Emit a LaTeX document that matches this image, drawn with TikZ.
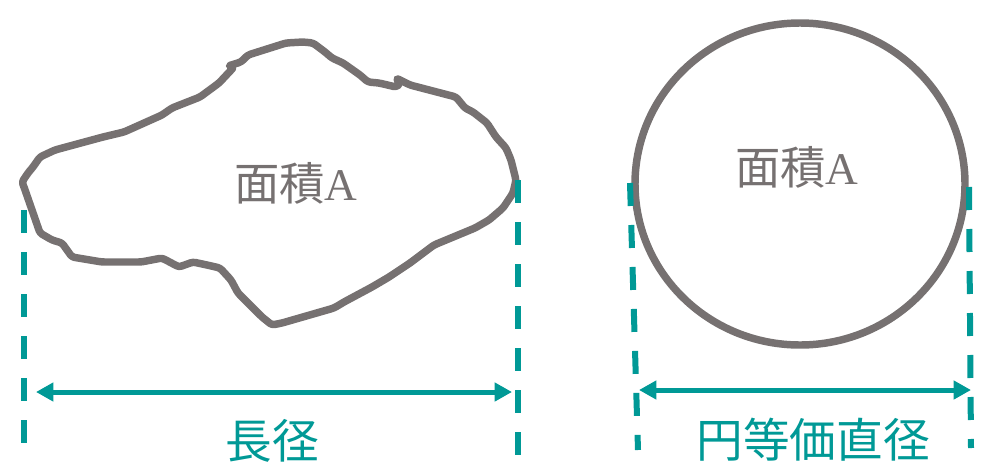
\documentclass[tikz,border=0pt]{standalone}
\usepackage{fontspec}
\setmainfont{Liberation Serif}
\newfontfamily\jp{Noto Sans CJK JP}
\usetikzlibrary{arrows.meta}
\definecolor{shapegray}{RGB}{118,113,113}
\definecolor{teal}{RGB}{0,153,150}
\tikzset{
  outline/.style={draw=shapegray, line width=5.6pt, line join=round, line cap=round},
  guide/.style={draw=teal, line width=4.5pt, dash pattern=on 17.25pt off 14.25pt},
  measure/.style={draw=teal, line width=3.75pt, {Triangle[length=13pt,width=13.5pt]}-{Triangle[length=13pt,width=13.5pt]}},
  areatext/.style={text=shapegray, font=\fontsize{34}{40}\selectfont, inner sep=0pt},
  dimtext/.style={text=teal, font=\jp\fontsize{35}{40}\selectfont, inner sep=0pt}
}
\begin{document}
\begin{tikzpicture}[x=0.75pt,y=-0.75pt]
\useasboundingbox (0,0) rectangle (989,468);
% irregular particle
\draw[outline, rounded corners=2pt] (33,167) -- (28,173) -- (22,182) -- (24,187) -- (40,233) -- (52,240) -- (62,243)
 -- (72,257) -- (102,262) -- (141,262) -- (162,258) -- (179,267) -- (193,262) -- (207,265) -- (220,268)
 -- (231,280) -- (238,293) -- (248,303) -- (262,317) -- (272,325) -- (282,323) -- (334,308) -- (344,302)
 -- (372,287) -- (389,277) -- (410,263) -- (434,245) -- (475,228) -- (489,220) -- (503,208) -- (513,193)
 -- (516,180) -- (511,160) -- (506,148) -- (496,137) -- (487,123) -- (473,112) -- (465,108) -- (456,97)
 -- (410,85) -- (396,78) -- (400,84) -- (396,87) -- (379,83) -- (368,82) -- (360,75) -- (343,63)
 -- (332,58) -- (325,52) -- (313,43) -- (303,42) -- (286,43) -- (248,55) -- (241,62) -- (228,66) -- (234,67)
 -- (219,83) -- (200,97) -- (172,108) -- (162,115) -- (124,132) -- (103,137) -- (55,150) -- (40,157) -- cycle;
\node[areatext] (areaL) at (296,183) {{\jp 面積}A};
% circle
\draw[outline] (800,184) ellipse [x radius=165, y radius=161];
\node[areatext] (areaR) at (797,167) {{\jp 面積}A};
% guides
\coordinate (gL1) at (24,210); \coordinate (gL2) at (24,443);
\coordinate (gR1) at (518,180); \coordinate (gR2) at (518,455);
\coordinate (cL1) at (630,183); \coordinate (cL2) at (638,450);
\coordinate (cR1) at (969,187); \coordinate (cR2) at (971,448);
\draw[guide] (gL1) -- (gL2);
\draw[guide] (gR1) -- (gR2);
\draw[guide] (cL1) -- (cL2);
\draw[guide] (cR1) -- (cR2);
% measures
\coordinate (aL1) at (36,392); \coordinate (aL2) at (512,392);
\coordinate (aR1) at (639,390); \coordinate (aR2) at (971,390);
\draw[measure] (aL1) -- (aL2);
\draw[measure] (aR1) -- (aR2);
\node[dimtext] (long) at (272,441) {長径};
\node[dimtext] (equiv) at (813,440) {円等価直径};
\end{tikzpicture}
\end{document}
